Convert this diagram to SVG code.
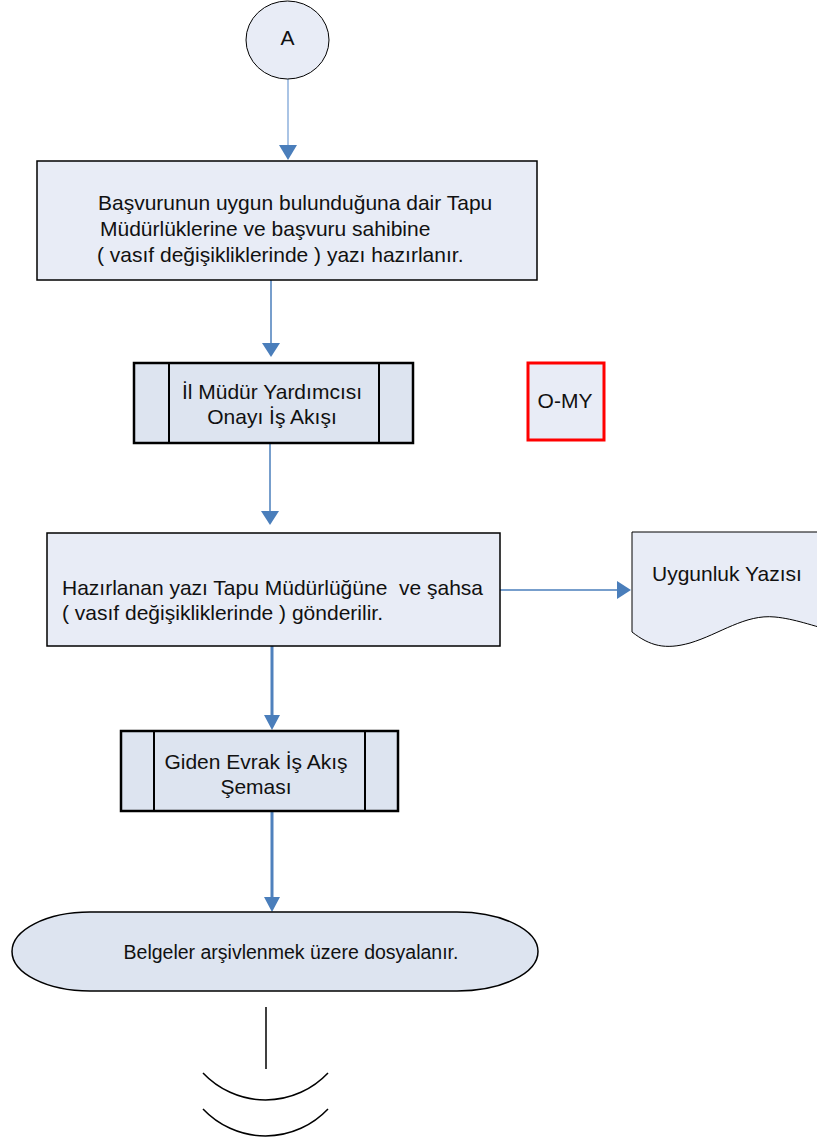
<svg xmlns="http://www.w3.org/2000/svg" width="817" height="1138" viewBox="0 0 817 1138">
<defs>
<style>
text{font-family:"Liberation Sans",Arial,sans-serif;font-size:21px;fill:#111}
.p{fill:#e8ecf6;stroke:#000;stroke-width:1.5}
.pp{fill:#dde4f0;stroke:#000;stroke-width:2.5}
.c{stroke:#4a7ebb;stroke-width:1.5;fill:none}
.ct{stroke:#4f81bd;stroke-width:3;fill:none}
.ah{fill:#4a7ebb}
</style>
</defs>
<rect width="817" height="1138" fill="#fff"/>
<g id="connectors">
<line x1="288" y1="79" x2="288" y2="146" stroke="#8eb1dc" stroke-width="1.5"/>
<polygon class="ah" points="279,145 297,145 288,160"/>
<line class="c" x1="271" y1="280" x2="271" y2="343"/>
<polygon class="ah" points="262,343 280,343 271,357"/>
<line class="c" x1="270" y1="443" x2="270" y2="512"/>
<polygon class="ah" points="261,511 279,511 270,525"/>
<line class="c" x1="500" y1="590" x2="618" y2="590"/>
<polygon class="ah" points="617,581 617,599 631,590"/>
<line class="ct" x1="272" y1="646" x2="272" y2="716"/>
<polygon class="ah" points="264,715 280,715 272,730"/>
<line class="ct" x1="272" y1="811" x2="272" y2="898"/>
<polygon class="ah" points="264,897 280,897 272,912"/>
</g>
<g id="nodeA">
<ellipse cx="287.5" cy="40" rx="41.5" ry="39" fill="#e8ecf6" stroke="#000" stroke-width="1"/>
<text x="287.5" y="45" text-anchor="middle">A</text>
</g>
<g id="box1">
<rect class="p" x="37" y="161" width="500" height="119"/>
<text x="98" y="210">Başvurunun uygun bulunduğuna dair Tapu</text>
<text x="100" y="236">Müdürlüklerine ve başvuru sahibine</text>
<text x="97" y="262">( vasıf değişikliklerinde ) yazı hazırlanır.</text>
</g>
<g id="box2">
<rect class="pp" x="134" y="363" width="279" height="80"/>
<line x1="169" y1="363" x2="169" y2="443" stroke="#000" stroke-width="2"/>
<line x1="379" y1="363" x2="379" y2="443" stroke="#000" stroke-width="2"/>
<text x="272" y="399" text-anchor="middle">İl Müdür Yardımcısı</text>
<text x="272" y="424" text-anchor="middle">Onayı İş Akışı</text>
</g>
<g id="omy">
<rect x="528" y="363" width="76" height="77" fill="#e8ecf6" stroke="#f00" stroke-width="3"/>
<text x="565" y="408" text-anchor="middle">O-MY</text>
</g>
<g id="box3">
<rect class="p" x="47" y="533" width="453" height="113"/>
<text x="62" y="595" style="white-space:pre">Hazırlanan yazı Tapu Müdürlüğüne  ve şahsa</text>
<text x="62" y="620">( vasıf değişikliklerinde ) gönderilir.</text>
</g>
<g id="doc">
<path d="M632,532 H840 V633 C810,625 795,619 775,617 C745,614 720,634 690,643 C665,650 650,646 632,632 Z" fill="#e8ecf6" stroke="#000" stroke-width="1"/>
<text x="652" y="581">Uygunluk Yazısı</text>
</g>
<g id="box4">
<rect class="pp" x="121" y="731" width="277" height="80"/>
<line x1="154" y1="731" x2="154" y2="811" stroke="#000" stroke-width="2"/>
<line x1="365" y1="731" x2="365" y2="811" stroke="#000" stroke-width="2"/>
<text x="256" y="769" text-anchor="middle">Giden Evrak İş Akış</text>
<text x="256" y="794" text-anchor="middle">Şeması</text>
</g>
<g id="terminator">
<path d="M90,912 H457 A81,39.5 0 0 1 457,991 H90 A78,39.5 0 0 1 90,912 Z" fill="#dde4f0" stroke="#000" stroke-width="1.5"/>
<text x="291" y="959" text-anchor="middle" style="font-size:19.5px">Belgeler arşivlenmek üzere dosyalanır.</text>
</g>
<g id="break">
<line x1="266" y1="1007" x2="266" y2="1069" stroke="#000" stroke-width="1.5"/>
<path d="M203,1073 A86,86 0 0 0 328,1073" fill="none" stroke="#000" stroke-width="1.5"/>
<path d="M203,1109 A86,86 0 0 0 328,1109" fill="none" stroke="#000" stroke-width="1.5"/>
</g>
</svg>
